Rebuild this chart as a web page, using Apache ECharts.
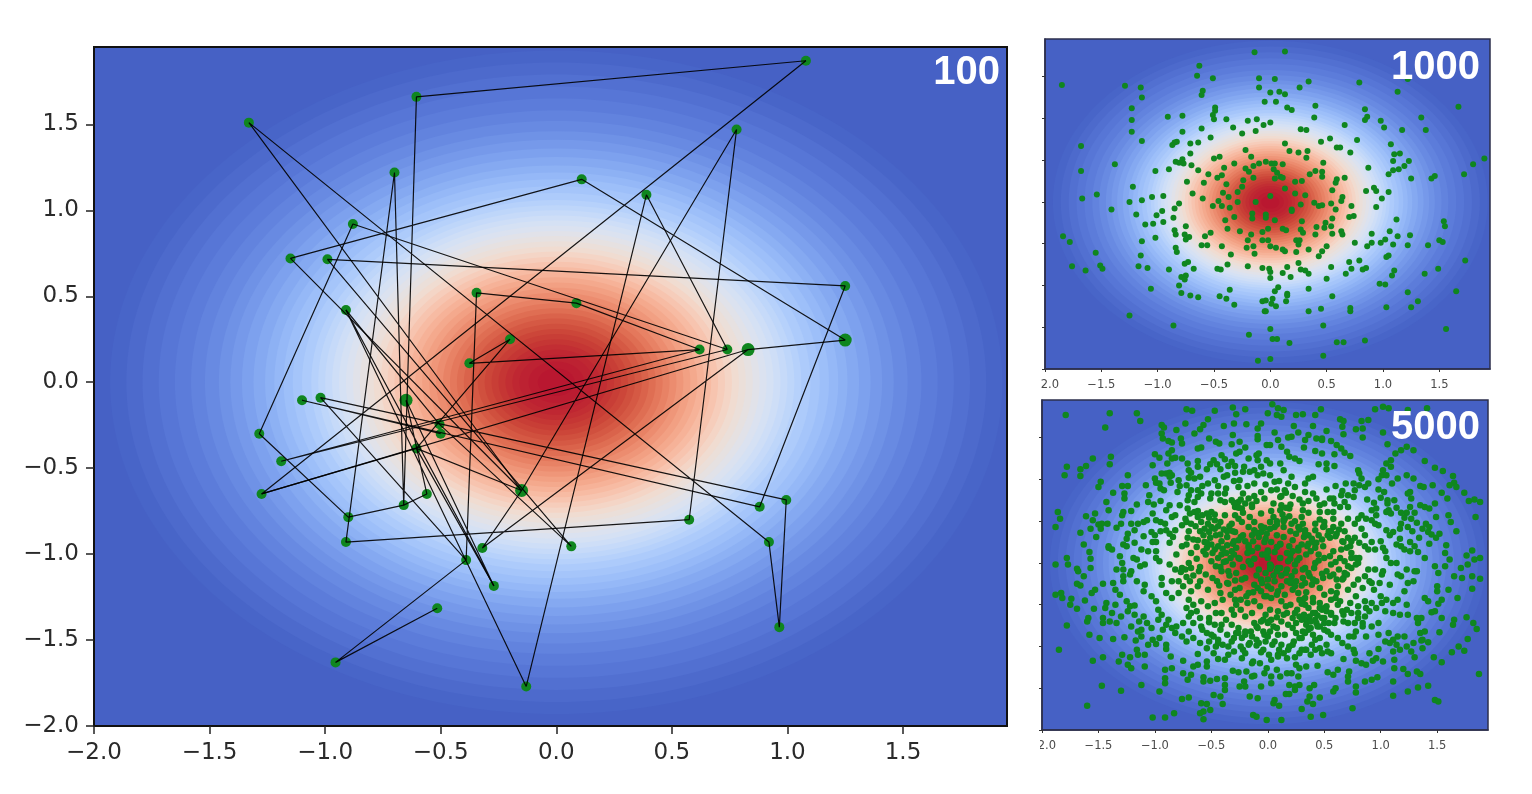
<!DOCTYPE html>
<html>
<head>
<meta charset="utf-8">
<style>
  html, body { margin: 0; background: #fff; }
  #chart { width: 1532px; height: 794px; filter: blur(0.5px); }
</style>
<script src="https://cdn.jsdelivr.net/npm/echarts@6/dist/echarts.min.js"></script>
</head>
<body>
<div id="chart"></div>
<script>
// tick labels shared by all panels
const tickValues = [-2, -1.5, -1, -0.5, 0, 0.5, 1, 1.5];

// filled contour bands of the density, outermost first (radius in axis units)
const bandRadii = [1.93, 1.86, 1.79, 1.72, 1.65, 1.58, 1.52, 1.46, 1.41, 1.36, 1.31, 1.26, 1.22, 1.18, 1.14, 1.10, 1.06, 1.03, 1.00, 0.97, 0.94, 0.91, 0.88, 0.85, 0.82, 0.79, 0.76, 0.73, 0.70, 0.67, 0.64, 0.61, 0.58, 0.55, 0.52, 0.49, 0.46, 0.43, 0.40, 0.37, 0.34, 0.31, 0.28, 0.25, 0.22, 0.19, 0.16, 0.12, 0.08];
const bandColors = ['#4865c8', '#4d6acc', '#5270d1', '#5776d6', '#5c7cda', '#6283de', '#688ae2', '#6f92e6', '#7699ea', '#7da1ee', '#85a9f1', '#8db1f4', '#95b8f7', '#9dbff9', '#a5c5fa', '#adcbfb', '#b6d1fb', '#bed6fa', '#c6daf9', '#cedef7', '#d5e1f4', '#dbe2f0', '#e1e2e9', '#e6e1e1', '#ebdfd9', '#f0dcd1', '#f4d5c6', '#f6cdbb', '#f7c4af', '#f7bba3', '#f6b298', '#f4a98d', '#f2a083', '#ef9679', '#ec8c6f', '#e88265', '#e4785c', '#df6e53', '#da634b', '#d55944', '#d0503e', '#cc4639', '#c83e36', '#c53634', '#c22e33', '#bf2732', '#bd2232', '#bb1c31', '#b91730'];

// panel "100": accepted states, then the order the walk visits them
const pts100X = [1.08, -0.605, -1.33, -0.70, 0.11, 0.39, 0.78, -0.88, -1.15, -0.99, 1.25, -0.345, 0.087, -0.91, -0.20, -0.376, 0.62, 0.74, 0.83, 1.25, -0.65, -1.10, -1.02, -0.505, -0.50, -0.605, -1.285, -1.19, -1.275, -0.56, -0.66, -0.15, -0.90, -0.91, 0.575, -0.32, 0.065, -0.39, -0.27, -0.515, -0.955, -0.13, 0.88, 0.995, 0.92, 0.965];
const pts100Y = [1.87, 1.66, 1.51, 1.22, 1.18, 1.09, 1.47, 0.92, 0.72, 0.715, 0.56, 0.52, 0.46, 0.42, 0.25, 0.11, 0.19, 0.19, 0.19, 0.245, -0.105, -0.105, -0.09, -0.245, -0.30, -0.385, -0.30, -0.46, -0.65, -0.65, -0.715, -0.63, -0.785, -0.93, -0.80, -0.965, -0.955, -1.035, -1.185, -1.315, -1.63, -1.77, -0.725, -0.685, -0.93, -1.425];
const repeated100 = [19, 20, 21, 32];
const trailA = [40, 41, 38, 23, 44, 46, 45, 3, 32, 9, 5, 20, 19, 29, 1, 2, 31, 4, 34, 35, 7, 32, 36, 19];
const trailB = [38, 12, 13, 17, 28, 18, 8, 27, 33, 31, 30, 21, 39, 14, 42, 6, 18];
const trailC = [17, 16, 15, 26, 29];
const trailD = [32, 26, 39];
const trailE = [25, 22, 43, 11, 10, 37, 24, 14];

// panel "1000": x,y,x,y...
const pts1000 = [-1.85,1.40,-.14,1.79,-.63,1.63,-.65,1.51,-.51,1.48,-.10,1.48,-.10,1.37,-1.29,1.39,-1.15,1.37,-1.14,1.25,-.60,1.33,-.61,1.28,-.05,1.20,-1.23,1.12,-1.23,.98,-1.23,.84,-1.14,.73,-.49,1.13,-.49,1.09,-.51,1.04,-.50,.99,-.91,1.02,-.78,1.03,-.39,.99,-.20,.97,-.12,.99,-.06,.92,-.33,.89,-.61,.88,-.78,.84,-.25,.82,-.13,.85,-.53,.77,-.83,.72,-.85,.71,-.87,.68,-.71,.70,-.64,.71,-1.68,.67,-.71,.58,-.22,.62,-.17,.54,-.50,.52,-.45,.54,-.32,.46,-.84,.48,-.81,.47,-.78,.51,-.77,.46,-.70,.44,-1.38,.45,-1.68,.37,-1.02,.37,-.90,.39,-.64,.38,-.41,.41,-.22,.40,-.19,.36,-.15,.43,-.10,.46,-.04,.48,-.55,.33,-.43,.32,-.47,.29,-.15,.29,-.24,.26,-.74,.24,-.59,.23,-.39,.21,-.25,.18,-1.22,.18,-.29,.12,-.42,.11,-.69,.10,-1.54,.09,-1.67,.04,-.60,.04,-.37,.06,-1.05,.06,-.95,.07,-1.14,.02,-1.25,0,-.29,0,-.13,0,-.81,-.02,-.46,.01,-.51,-.05,-.43,-.05,-.36,-.07,-.85,-.08,-.96,-.11,-1.41,-.09,
-1.19,-.15,-1.01,-.16,-.86,-.19,-1.11,-.27,-1.04,-.26,-.95,-.24,-.75,-.29,-.40,-.22,-.32,-.18,-.16,-.14,-.16,-.20,-.04,-.15,-.38,-.32,-.27,-.35,-.53,-.37,-.58,-.41,-.85,-.34,-.84,-.39,-.76,-.39,-.75,-.45,-.72,-.42,-.17,-.39,-.07,-.36,-1.02,-.43,-1.14,-.47,-.20,-.46,-.07,-.46,-.61,-.52,-.56,-.52,-.43,-.53,-.21,-.55,-.15,-.53,-.84,-.55,-.83,-.60,-.14,-.62,-.35,-.63,-1.84,-.41,-1.78,-.48,-1.55,-.61,-1.15,-.64,-.73,-.72,-.76,-.74,-.38,-.75,-.20,-.77,-.07,-.79,-.47,-.80,-.44,-.81,-.68,-.80,-.90,-.81,-1.09,-.79,-1.17,-.77,-1.51,-.76,-1.49,-.80,-1.76,-.77,-1.64,-.82,-.79,-.90,-.75,-.88,-.76,-.93,-.81,-1.00,-1.06,-1.04,-.36,-1.05,-.79,-1.09,-.71,-1.12,-.64,-1.14,-.45,-1.13,-.39,-1.16,-.07,-1.19,-.32,-1.23,-.05,-1.31,-1.25,-1.36,-.86,-1.48,-.19,-1.59,-.11,-1.90,
.13,1.80,.04,1.47,.34,1.44,.26,1.37,0,1.31,.08,1.32,.13,1.29,.05,1.20,.15,1.13,.19,1.10,.40,1.15,.39,1.01,.79,1.43,1.22,1.47,1.13,1.32,1.67,1.14,.84,1.11,.86,1.02,.84,.98,.66,.92,.98,.97,1.01,.89,1.34,1.01,1.38,.86,1.17,.86,0,.95,.27,.87,.32,.86,.45,.72,.53,.76,.77,.74,.59,.65,.62,.65,.71,.59,.13,.70,.17,.61,.25,.59,.33,.61,.32,.53,1.07,.69,1.10,.57,1.15,.58,1.09,.49,1.23,.49,1.19,.43,1.14,.39,1.09,.38,1.05,.33,.87,.41,.47,.47,.01,.46,.04,.46,.11,.45,1.90,.52,1.80,.45,1.72,.33,1.25,.28,1.43,.28,1.46,.31,.03,.39,.06,.35,.09,.30,.11,.29,.35,.33,.40,.37,.46,.36,.46,.30,.66,.29,.59,.27,.58,.23,.22,.24,.28,.25,.04,.28,.13,.16,.55,.14,.85,.13,.92,.17,.94,.13,1.05,.12,.99,.04,.22,.10,.31,.08,0,.07,.64,.06,.63,.01,.39,-.01,.27,-.03,.54,-.02,.43,-.05,.46,-.04,.72,-.05,.94,-.06,.58,-.09,.19,-.09,
.19,-.11,-.04,-.19,.04,-.22,.28,-.23,.49,-.25,.55,-.20,.70,-.18,.74,-.17,1.12,-.21,1.54,-.23,1.55,-.29,.41,-.30,.48,-.31,.54,-.29,-.02,-.32,.11,-.32,.14,-.34,.27,-.33,.29,-.37,.63,-.35,.64,-.39,.40,-.39,.55,-.38,.90,-.38,1.06,-.35,1.13,-.41,1.24,-.40,-.02,-.46,.23,-.46,.26,-.46,.25,-.51,.75,-.49,.90,-.49,.98,-.49,1.02,-.45,1.09,-.51,1.22,-.52,1.40,-.52,1.50,-.46,1.53,-.48,.86,-.53,0,-.53,.05,-.55,.11,-.57,.13,-.59,.50,-.53,.46,-.59,.34,-.57,.23,-.60,.43,-.65,1.05,-.64,1.03,-.66,1.73,-.70,.70,-.72,.79,-.70,.25,-.73,.15,-.78,.54,-.78,.72,-.80,.85,-.79,.82,-.81,1.49,-.80,1.10,-.82,.27,-.81,.31,-.82,.34,-.86,-.01,-.80,0,-.84,.11,-.85,.18,-.90,0,-.91,.67,-.86,1.08,-.88,1.37,-.86,.50,-.92,.97,-.98,1.02,-.99,.34,-1.04,.07,-1.02,.04,-1.07,.15,-1.10,.55,-1.13,1.22,-1.08,1.65,-1.07,.02,-1.16,-.04,-1.18,.15,-1.12,.14,-1.19,1.31,-1.19,.01,-1.22,.05,-1.25,1.03,-1.26,1.25,-1.26,.71,-1.27,.71,-1.31,.45,-1.28,.34,-1.31,-.04,-1.31,.47,-1.48,0,-1.52,1.56,-1.52,.02,-1.64,.06,-1.64,.17,-1.69,.59,-1.68,.65,-1.68,.84,-1.66,.47,-1.84,0,-1.88];

// panel "5000": x,y,x,y...
const pts5000 = [-1.79,1.77,-1.40,1.79,-1.16,1.79,-1.13,1.70,-1.44,1.62,-.72,1.84,-.67,1.82,-.47,1.82,-.31,1.86,-.28,1.78,-.20,1.84,-.53,1.72,-.57,1.65,-.60,1.60,-.73,1.67,-.81,1.59,-.65,1.55,-.39,1.64,-.30,1.67,-.19,1.66,-.06,1.67,-.09,1.61,-.94,1.65,-.92,1.62,-.94,1.55,-.93,1.49,-.88,1.46,-.85,1.44,-.77,1.49,-.76,1.43,-.52,1.49,-.46,1.45,-.43,1.43,-.31,1.53,-.32,1.42,-.25,1.45,-.20,1.38,-.09,1.52,-.09,1.48,-.62,1.37,-.59,1.38,-.85,1.35,-1.00,1.30,-.96,1.26,-.88,1.31,-.85,1.25,-.82,1.26,-.76,1.25,-.71,1.19,-1.02,1.17,-.89,1.19,-.70,1.11,-.68,1.08,-.62,1.22,-.62,1.15,-.41,1.29,-.38,1.24,-.28,1.31,-.25,1.33,-.32,1.21,-.29,1.16,-.17,1.25,-.10,1.29,-.08,1.31,-.09,1.23,-.48,1.23,-.51,1.18,-.54,1.12,-.45,1.18,-.42,1.12,-.35,1.16,-.21,1.15,-.16,1.09,-.22,1.09,-.12,1.11,-.06,1.15,-1.55,1.25,-1.39,1.27,-1.40,1.18,-1.61,1.16,-1.66,1.12,-1.78,1.15,-1.80,1.05,-1.66,1.04,-1.24,1.05,-.94,1.07,-.90,1.07,-.87,1.08,-.85,1.05,-.87,1.03,-.79,.99,-.65,1.01,-.60,1.03,-.53,.95,-.47,.99,-.39,1.03,-.36,1.05,-.29,1.08,-.25,.99,-.09,1.05,-.04,1.07,-1.00,1.01,-.99,.96,-.96,.95,-.95,.89,-.92,.87,-1.48,.97,-1.50,.91,-1.29,.92,-1.24,.92,-1.08,.93,-.72,.93,-1.37,.84,-1.27,.83,-1.27,.77,-1.05,.81,-1.06,.73,-.80,.85,-.70,.81,-.71,.75,-.68,.87,-.62,.87,-.59,.83,-.62,.79,-.65,.73,-.50,.83,-.51,.77,-.44,.83,-.42,.75,-.37,.89,-.38,.83,-.26,.91,-.22,.83,-.17,.77,-.12,.95,-.06,.85,-.03,.77,-.38,.73,-.32,.75,-.26,.73,-.20,.71,-.29,.67,-.23,.65,-.14,.67,-1.43,.73,-1.41,.63,-1.16,.70,-1.21,.62,-1.28,.61,-1.29,.57,-.95,.74,-1.01,.70,-.78,.69,-.87,.69,-.90,.63,-1.86,.61,-1.84,.53,-1.88,.43,-1.61,.56,-1.53,.59,-1.55,.51,-1.50,.46,-1.47,.47,-1.42,.47,-1.48,.41,-1.57,.41,-1.34,.42,-1.30,.47,-1.21,.47,-1.15,.47,-1.10,.49,-1.07,.51,-1.02,.59,-.99,.51,-.95,.49,-.91,.47,-.85,.55,-.82,.57,-.71,.65,-.69,.59,-.65,.61,-.62,.55,-.73,.53,-.72,.49,-.54,.59,-.50,.61,-.47,.51,-.38,.57,-.29,.57,-.23,.49,-.16,.55,-.12,.49,-.06,.59,-.76,.45,-.68,.47,-.59,.49,-.53,.47,-.56,.41,-.57,.33,-.50,.43,-.42,.49,-1.66,.36,-1.52,.31,-1.63,.22,-1.58,.13,-1.24,.35,-1.25,.29,-1.28,.22,-1.25,.20,-1.18,.39,-1.10,.32,-1.03,.37,-1.00,.33,-.95,.38,-1.02,.25,-.99,.25,-1.41,.18,-1.38,.16,-1.41,.20,-1.18,.24,-1.12,.16,-1.06,.14,-.99,.14,-1.09,-.02,-1.13,-.04,-.87,.35,-.84,.31,-.82,.39,-.90,.39,-.87,.24,-.81,.10,-.76,.20,-.72,.22,-.68,.12,-.71,.30,-.62,.27,-.56,.25,-.57,.14,-.54,.18,-.50,.22,-.47,.16,-.41,.10,-.37,.02,-.32,.14,-.26,.27,-.22,.33,-.14,.33,-.29,.37,-.17,.43,-.12,.39,-.06,.37,-.03,.25,-.09,.18,-.14,.14,-.17,.02,-.26,.06,-.31,-.02,-1.78,.06,-1.77,-.02,-1.88,-.02,-1.57,.05,-1.57,-.06,-1.69,-.07,-1.31,.08,-1.29,0,-1.34,-.08,-1.28,-.08,-1.21,-.10,-1.19,.06,-1.16,.04,-.99,.06,-.96,.02,-.87,-.02,-.82,-.08,-.76,-.06,-.73,-.08,-.68,-.06,
.04,1.90,.09,1.85,.14,1.83,0,1.79,.08,1.77,.12,1.75,.25,1.77,.31,1.78,.42,1.77,.47,1.84,.64,1.72,.67,1.70,.66,1.63,.67,1.54,.83,1.70,.89,1.71,.84,1.61,.78,1.60,.84,1.50,.95,1.84,1.02,1.87,1.07,1.85,1.24,1.83,1.41,1.85,1.02,1.56,1.06,1.42,.23,1.64,.27,1.56,.40,1.64,.52,1.58,.48,1.49,.36,1.53,.33,1.47,.32,1.38,.06,1.56,.09,1.47,.18,1.50,.21,1.51,-.01,1.41,.02,1.41,.12,1.39,.17,1.33,.19,1.27,.43,1.49,.48,1.47,.56,1.46,.61,1.41,.65,1.37,.68,1.32,.73,1.28,.59,1.30,.42,1.34,.48,1.31,-.01,1.23,.02,1.19,.11,1.19,.14,1.11,.24,1.25,.28,1.22,.45,1.18,.52,1.19,.59,1.16,.52,1.12,1.23,1.39,1.18,1.35,1.13,1.31,1.09,1.23,1.05,1.19,1.02,1.11,1.01,1.05,1.05,1.05,1.09,1.15,1.29,1.35,1.39,1.22,1.48,1.14,1.55,1.10,1.64,1.04,1.65,.96,1.61,.93,1.67,.91,1.23,1.05,1.29,1.01,1.15,1.01,1.10,.95,.98,1.00,.89,.95,.86,.91,.83,1.01,.81,1.07,.80,1.11,1.35,.92,1.38,.91,1.46,.93,1.26,.85,1.27,.77,1.24,.83,1.54,.84,1.59,.77,1.74,.84,1.78,.74,1.83,.76,1.88,.73,1.84,.55,.98,.88,1.03,.85,1.06,.75,1.06,.71,1.12,.75,.69,.95,.76,.95,.81,.93,.77,.87,.71,.81,.76,.79,.55,.77,.58,.77,.59,.71,.65,.81,.68,.73,.71,.67,.64,.67,.36,1.01,.40,1.03,.33,.95,.33,.85,.40,.83,.43,.77,.02,1.05,.06,.97,.18,.95,.15,.87,.03,.87,.11,.79,.24,.91,.21,1.03,.05,.71,.12,.69,.19,.65,.31,.71,.31,.63,.46,.69,.50,.71,.53,.61,.58,.61,.46,.61,1.26,.67,1.23,.60,1.21,.54,1.27,.53,1.35,.69,1.39,.67,1.43,.65,1.48,.71,1.49,.55,1.60,.57,1.62,.49,1.67,.38,.92,.63,.96,.65,.96,.57,.83,.57,.80,.53,.87,.53,.92,.51,.95,.47,.98,.45,1.07,.63,1.05,.61,1.09,.59,1.11,.37,1.08,.33,1.05,.39,1.18,.47,1.17,.41,1.24,.43,1.17,.29,1.37,.41,1.40,.47,1.43,.43,1.42,.37,1.45,.34,1.49,.30,1.52,.35,1.58,.21,1.57,.12,1.26,.25,1.18,.20,1.21,.16,1.26,.14,1.33,.13,1.39,.06,1.43,.23,1.81,.15,1.76,.09,1.88,.06,1.83,.04,1.77,-.02,1.71,-.06,1.61,.04,1.48,-.04,1.57,-.04,1.14,0,1.09,0,1.05,.06,1.02,-.10,1.23,-.08,1.32,-.10,.89,-.08,.95,-.08,
.50,.49,.58,.53,.65,.47,.71,.53,.77,.47,.83,.41,.86,.33,.92,.25,.77,.30,.81,.24,.86,.20,.89,.16,.95,.16,1.04,.14,.42,.47,.42,.39,.45,.33,.49,.43,.53,.33,.58,.43,.61,.35,.67,.25,.73,.20,.65,.16,.58,.14,.64,.06,.68,.02,.74,.06,.81,.06,.71,-.04,.78,-.02,.30,.55,.31,.47,.33,.39,.36,.33,.27,.43,.25,.35,.22,.27,.19,.20,.30,.22,.36,.23,.42,.18,.49,.20,.45,.10,.50,.06,.56,-.02,.42,0,.34,.10,.28,.06,.24,-.02,.33,-.06,.05,.55,.11,.63,.15,.53,.21,.47,.06,.43,.14,.43,.02,.41,-.01,.35,.08,.33,.14,.31,.03,.25,.11,.22,.17,.12,.06,.13,0,.06,.11,.06,.18,.02,.03,-.04,.09,-.06,.17,-.08,.24,-.10,
-1.88,-.38,-1.83,-.36,-1.82,-.42,-1.74,-.43,-1.75,-.50,-1.69,-.55,-1.62,-.45,-1.54,-.55,-1.78,-.75,-1.85,-1.04,-1.69,-.25,-1.66,-.27,-1.63,-.16,-1.68,-.10,-1.56,-.36,-1.53,-.32,-1.46,-.25,-1.59,-.66,-1.60,-.70,-1.58,-.86,-1.46,-.66,-1.46,-.72,-1.40,-.70,-1.38,-.60,-1.43,-.48,-1.44,-.54,-1.49,-.90,-1.37,-.91,-1.27,-.89,-1.35,-.50,-1.35,-.32,-1.37,-.24,-1.28,-.22,-1.31,-.38,-1.25,-.46,-1.22,-.52,-1.18,-.51,-1.21,-.76,-1.17,-.93,-1.12,-.88,-1.15,-.82,-1.12,-.80,-1.28,-.16,-1.22,-.14,-1.16,-.22,-1.09,-.26,-1.10,-.34,-1.03,-.40,-.99,-.46,-.97,-.56,-1.10,-.64,-1.07,-.72,-1.03,-.78,-.97,-.68,-.93,-.80,-.88,-.68,-.85,-.78,-.81,-.76,-.75,-.72,-.70,-.64,-.68,-.60,-1.16,-1.04,-1.15,-1.10,-1.09,-1.10,-.99,-.97,-.90,-.98,-.90,-1.03,-1.46,-1.13,-1.55,-1.17,-1.32,-1.18,-1.29,-1.10,-1.22,-1.13,-1.24,-1.22,-1.21,-1.26,-1.09,-1.24,-1.47,-1.47,-1.30,-1.53,-1.12,-1.46,-.96,-1.54,-1.60,-1.71,-1.02,-1.85,-.91,-1.85,-.83,-1.80,-.76,-1.63,-.70,-1.61,-.86,-1.12,-.75,-1.17,-.91,-1.28,-.85,-1.26,-.91,-1.38,-.91,-1.44,-.75,-1.32,-.71,-1.40,-.68,-1.34,-.66,-1.24,-.62,-1.22,-.57,-1.37,-.57,-1.42,-.51,-1.41,-.45,-1.39,-.38,-1.38,-.38,-1.46,-.38,-1.52,-.54,-1.18,-.54,-1.24,-.44,-1.15,-.38,-1.16,-.62,-1.09,-.48,-1.58,-.42,-1.60,-.59,-1.68,-.54,-1.69,-.51,-1.76,-.57,-1.78,-.60,-1.80,-.40,-1.69,-.57,-1.87,-.31,-1.29,-.26,-1.31,-.19,-1.30,-.14,-1.36,-.21,-1.42,-.25,-1.48,-.20,-1.48,-.12,-1.35,-.06,-1.48,-.16,-1.60,-.09,-1.62,-.13,-1.82,-.10,-1.84,-.23,-1.14,-.20,-1.08,-.14,-1.20,-.35,-1.10,-.22,-1.04,-.13,-1.18,-.04,-1.04,-.07,-1.20,
-.94,-.26,-.90,-.36,-.85,-.42,-.79,-.36,-.75,-.28,-.70,-.44,-.66,-.50,-.59,-.46,-.53,-.52,-.47,-.48,-.41,-.60,-.37,-.68,-.32,-.56,-.29,-.44,-.20,-.64,-.14,-.60,-.12,-.72,-.59,-.76,-.54,-.84,-.48,-.88,-.44,-.92,-.40,-.98,-.32,-.94,-.23,-.90,-.17,-.98,-.10,-.92,-.04,-.82,-.41,-.74,-.32,-.74,-.26,-.78,-.09,-.78,-.35,-.25,-.29,-.32,-.23,-.20,-.17,-.36,-.12,-.26,-.06,-.20,-.03,-.40,-.45,-.22,-.42,-.36,-.53,-.32,-.62,-.28,-.68,-.34,-.60,-.22,-.69,-.22,-.79,-.22,-.85,-.22,-.94,-.18,-.30,.10,-.25,.05,-.18,.12,-.12,.05,-.05,.10,0,.15,-.22,-.05,-.15,-.02,-.08,-.08,.02,-.02,-.28,-.12,-.20,-.18,-.10,-.15,-.02,-.12,.05,-.15,-.35,-.10,-.42,-.05,-.50,.02,-.55,.10,-.63,.05,-.60,-.05,-.70,0,-.25,-.30,-.33,-.38,-.40,-.44,-.18,-.48,-.07,-.52,-.24,-.56,-.02,-.62,-.30,-.62,-.46,-.60,-.52,-.66,-.63,-.58,-.72,-.54,-.60,-.66,-.66,-.72,
1.51,-.12,1.65,-.16,1.72,-.18,1.81,-.16,1.88,-.19,1.81,-.31,1.60,-.32,1.54,-.44,1.51,-.49,1.48,-.58,1.54,-.66,1.68,-.42,1.76,-.65,1.82,-.72,1.85,-.79,1.77,-.91,1.74,-1.05,1.69,-1.00,1.63,-1.07,1.87,-1.33,1.50,-.28,1.50,-.34,1.39,-.42,1.42,-.46,1.45,-.59,1.52,-.83,1.65,-.68,1.64,-.74,1.32,-.66,1.36,-.66,1.33,-.72,1.35,-.84,1.39,-.82,1.37,-.92,1.36,-.93,1.42,-.95,1.37,-1.02,1.47,-1.13,1.54,-1.19,1.29,-.96,1.27,-1.06,1.30,-1.13,1.20,-1.27,1.24,-1.33,1.32,-1.30,1.35,-1.33,1.33,-1.49,1.42,-1.47,1.24,-1.54,1.11,-1.59,1.48,-1.64,1.51,-1.66,1.11,-1.42,1.15,-.88,1.11,-.92,1.14,-.98,1.08,-.96,1.04,-.94,1.21,-.88,1.23,-1.0,1.17,-1.04,1.11,-1.06,.98,-1.03,1.12,-1.16,1.12,-1.26,1.02,-1.18,.96,-1.14,.93,-1.17,.90,-1.08,1.07,-.84,.98,-.86,.87,-.88,.76,-.88,.71,-1.0,.76,-1.04,.77,-1.08,.67,-1.15,.78,-1.17,.83,-1.20,.87,-1.22,.92,-1.40,.97,-1.37,.86,-1.42,.78,-1.48,.78,-1.55,.75,-1.74,.58,-1.54,.60,-1.50,.53,-1.31,.58,-1.34,.62,-1.28,.72,-1.30,.71,-1.36,.71,-1.42,.49,-1.82,.38,-1.84,.12,-1.88,-.01,-1.88,.30,-1.75,.35,-1.66,.37,-1.60,.41,-1.46,.37,-1.50,.40,-1.69,.46,-1.61,.06,-1.64,.05,-1.68,.10,-1.71,.16,-1.57,.19,-1.57,.24,-1.52,.28,-1.46,.19,-1.46,.24,-1.48,.03,-1.36,.11,-1.36,.03,-1.44,.08,-1.28,-.03,-1.32,.17,-1.32,.21,-1.32,.27,-1.36,.34,-1.24,.44,-1.23,.25,-1.22,.28,-1.26,.03,-1.16,-.01,-1.26,.09,-1.10,.17,-1.14,.24,-1.13,.30,-1.04,.34,-1.04,.39,-.98,.42,-1.04,.46,-1.02,.52,-.98,.53,-1.06,.56,-1.08,.42,-.92,.33,-1.04,
-.03,-.86,0,-.88,.06,-.94,.12,-.98,.18,-1.04,.15,-.86,.09,-.86,.25,-.84,.30,-.90,.31,-.82,.50,-.72,.53,-.82,.46,-.76,.42,-.68,.40,-.60,.48,-.56,.52,-.52,.56,-.62,.59,-.72,.67,-.62,.67,-.70,.71,-.72,.77,-.72,.70,-.56,.73,-.48,.80,-.60,.84,-.72,.92,-.76,.98,-.72,1.04,-.58,1.11,-.60,1.17,-.62,1.24,-.62,1.01,-.48,1.05,-.44,1.11,-.48,1.15,-.44,1.23,-.50,.86,-.46,.92,-.48,.87,-.54,.96,-.54,.71,-.32,.76,-.26,.80,-.20,.86,-.16,.92,-.24,.99,-.24,1.08,-.26,1.18,-.16,1.24,-.24,1.29,-.22,1.30,-.10,1.21,-.34,1.15,-.14,1.01,-.14,.64,-.46,.61,-.36,.56,-.44,.50,-.38,.46,-.30,.39,-.26,.31,-.44,.33,-.50,.27,-.36,.22,-.32,.15,-.38,.09,-.34,.03,-.42,-.01,-.40,.02,-.56,.09,-.58,.17,-.60,.24,-.60,.28,-.64,.03,-.68,.12,-.70,.18,-.74,.25,-.72,.34,-.68,.34,-.74,0,-.72,.05,-.76,0,-.20,.06,-.22,.12,-.28,.20,-.24,.25,-.22,.31,-.18,.37,-.16,.43,-.22,.49,-.18,.55,-.16,.61,-.20,.67,-.18];

// panel "5000": the solid green mass around the middle, chain by chain
const pts5000Core = [-.62,.62,-.58,.57,-.52,.54,-.47,.58,-.44,.44,-.39,.40,-.34,.44,-.31,.38,-.36,.31,-.41,.26,-.46,.33,-.51,.30,-.54,.24,-.49,.12,-.44,.06,-.40,.17,-.36,.21,-.31,.23,-.28,.18,-.33,.06,-.39,.01,-.46,-.04,-.41,-.10,-.34,-.15,-.29,-.21,-.36,-.24,-.43,-.27,-.49,-.18,-.55,-.14,-.61,-.10,-.66,-.15,-.72,-.17,-.77,-.11,-.63,.19,-.66,.28,-.70,.38,-.64,.44,-.60,.38,-.52,.37,-.47,.41,-.44,.20,-.37,.12,-.24,.31,-.20,.26,-.17,.21,-.13,.26,-.08,.31,-.03,.42,.02,.49,.08,.50,.13,.58,.19,.56,.24,.50,.28,.42,.32,.31,.27,.18,.22,.14,.26,.03,.31,-.08,.36,-.12,.41,-.06,.45,.03,.38,.14,.43,.24,.48,.28,.55,.30,.56,.38,.63,.40,.68,.38,.71,.30,.74,.26,.55,.08,.60,.01,.63,-.08,.68,-.12,.58,-.14,.52,-.10,.48,-.13,.40,-.20,.33,-.24,.24,-.28,.17,-.22,.12,-.15,.16,-.12,.21,-.16,.08,-.10,.02,-.07,-.05,-.24,-.09,-.30,-.13,-.35,-.19,-.40,-.24,-.44,-.28,-.50,-.12,-.46,-.06,-.34,0,-.28,.03,-.31,.08,-.38,.12,-.46,.16,-.52,.20,-.50,.28,-.44,.33,-.42,.40,-.47,.46,-.54,.52,-.58,.44,-.63,.37,-.64,.30,-.68,.22,-.66,.14,-.62,.08,-.65,.01,-.70,-.04,-.68,-.10,-.76,-.15,-.82,-.20,-.86,-.26,-.84,-.30,-.90,-.36,-.86,-.42,-.80,-.47,-.74,-.52,-.71,-.58,-.80,-.50,-.86,-.44,-.96,-.35,-1.00,-.30,-1.06,-.24,-1.00,-.16,-.96,-.10,-.99,-.06,-1.07,.01,-1.10,.09,-1.12,.14,-1.08,.19,-1.00,.23,-.94,.28,-.90,.33,-.84,.38,-.78,.43,-.72,.50,-.66,.56,-.60,.50,-.54,.46,-.48,.40,-.42,.34,-.35,.30,-.27,.20,-.22,.11,-.06,.20,.05,.20,.10,.27,.15,.35,.20,.41,.24,.39,.29,.33,.35,.28,.40,.20,.38,.08,.46,.14,.52,.14,.50,-.06,.44,-.10,.36,-.02,.29,.11,.23,.08,.19,.00,.13,-.02,.10,-.17,.18,-.30,.26,-.42,.34,-.36,.38,-.32,.47,-.26,.53,-.22,.60,-.26,.66,-.30,.72,-.24,.76,-.14,.70,-.10,.74,.12,.80,.16,.84,.08,.88,.03,.62,.20,.70,.16,.66,.36,.60,.46,.52,.50,.44,.54,.38,.60,.32,.66,.26,.70,.18,.74,.12,.78,.06,.80,0,.74,-.06,.70,-.14,.66,-.20,.62,-.28,.56,-.34,.60,-.42,.62,-.50,.66,-.58,.60,-.66,.54,-.72,.48,-.66,.42,-.60,.36,-.54,.30,-.49,.26,-.56,.32,-.62,.38,-.70,.44,-.76,.50,-.80,.56,-.86,.62,-.90,.66,-.96,.72,-.88,.78,-.82,.84,-.76,.80,-.66,.74,-.60,.80,-.52,.86,-.64,.90,-.58,.78,-.40,.84,-.30,.90,-.22,.94,-.32,1.00,-.40,-.70,-.82,-.76,-.88,-.82,-.84,-.72,-.94,-.66,-.90,-.60,-.96,-.54,-1.02,-.48,-1.08,-.52,-.94,-.46,-1.00,-.28,-.84,-.20,-.82,-.14,-.88,-.08,-.96,-.02,-.94,.04,-.98,.10,-1.04,.22,-.98,.28,-1.08,.38,-1.10,.48,-1.08,-.06,-.70,.02,-.82,.08,-.78,.22,-.78,.36,-.80,.40,-.86,.46,-.90,-.94,-.62,-.90,-.74,-.96,-.90,-1.02,-.92,-1.06,-.98,-1.14,-.70,-1.18,-.62,-1.24,-.58,-1.30,-.64,-1.34,-.72,-.70,1.02,-.78,.92,-.86,.96,-.58,.92,-.44,.92,-.30,.98,-.18,.92,-.12,.80,-.02,.94,.10,.98,.22,.80,.28,.76,.36,.74,.52,.88,.60,.92,.66,.86,.88,.76,.94,.72,1.00,.78,1.14,.66,1.18,.60,1.30,.60,1.32,.48,1.28,.38,1.34,.30,1.30,.20,1.14,.22,1.00,.26,1.02,.18];

const toPairs = flat => {
  const out = [];
  for (let i = 0; i < flat.length; i += 2) out.push([flat[i], flat[i + 1]]);
  return out;
};
const pt100 = id => [pts100X[id - 1], pts100Y[id - 1]];
const fmtTick = v => v.toFixed(1).replace('-', '\u2212');

const chart = echarts.init(document.getElementById('chart'));

// one axis pair per panel
function makeAxis(kind, idx, big) {
  return {
    type: 'value',
    gridIndex: idx,
    min: -2,
    max: 1.95,
    splitLine: { show: false },
    axisLine: { onZero: false, lineStyle: { color: big ? '#111' : '#2c2f4c', width: big ? 2 : 1.5 } },
    axisTick: { customValues: tickValues, length: big ? 8 : 3, lineStyle: { color: big ? '#222' : '#333', width: big ? 1.5 : 1 } },
    axisLabel: {
      customValues: tickValues,
      show: kind === 'x' || big,
      formatter: fmtTick,
      fontFamily: 'DejaVu Sans',
      fontSize: big ? 23 : 11.5,
      color: big ? '#2a2a2a' : '#4a4a4a',
      margin: big ? (kind === 'x' ? 16 : 15) : 10
    }
  };
}

function bandSeries(idx) {
  return {
    type: 'custom',
    xAxisIndex: idx,
    yAxisIndex: idx,
    z: 1,
    silent: true,
    data: bandRadii.map(r => [r, 0]),
    renderItem: (params, api) => {
      const r = api.value(0);
      const c = api.coord([0, 0]);
      const s = api.size([r, r]);
      return {
        type: 'ellipse',
        shape: { cx: c[0], cy: c[1], rx: s[0], ry: s[1] },
        style: { fill: bandColors[params.dataIndex] }
      };
    }
  };
}

function dots(idx, data, size) {
  return {
    type: 'scatter',
    xAxisIndex: idx,
    yAxisIndex: idx,
    z: 2,
    silent: true,
    symbolSize: size,
    itemStyle: { color: '#0f861f', opacity: 1 },
    data: data
  };
}

function trail(ids) {
  return {
    type: 'line',
    xAxisIndex: 0,
    yAxisIndex: 0,
    z: 3,
    silent: true,
    showSymbol: false,
    lineStyle: { color: '#000', width: 1.2, opacity: 0.9 },
    data: ids.map(pt100)
  };
}

const panelLabel = (text, right, baseline) => ({
  type: 'text',
  z: 100,
  style: {
    text: text,
    x: right,
    y: baseline,
    align: 'right',
    verticalAlign: 'bottom',
    fill: '#fff',
    font: 'bold 40px "Liberation Sans"'
  }
});

chart.setOption({
  animation: false,
  grid: [
    { left: 94, top: 47, width: 913, height: 679, show: true, backgroundColor: '#4661c5', borderColor: '#111', borderWidth: 2 },
    { left: 1045, top: 39, width: 445, height: 330, show: true, backgroundColor: '#4661c5', borderColor: '#2c2f4c', borderWidth: 1.5 },
    { left: 1042, top: 400, width: 446, height: 330, show: true, backgroundColor: '#4661c5', borderColor: '#2c2f4c', borderWidth: 1.5 }
  ],
  xAxis: [makeAxis('x', 0, true), makeAxis('x', 1, false), makeAxis('x', 2, false)],
  yAxis: [makeAxis('y', 0, true), makeAxis('y', 1, false), makeAxis('y', 2, false)],
  series: [
    bandSeries(0), bandSeries(1), bandSeries(2),
    dots(0, pts100X.map((x, i) => [x, pts100Y[i]]), 10),
    dots(0, repeated100.map(pt100), 13),
    trail(trailA), trail(trailB), trail(trailC), trail(trailD), trail(trailE),
    dots(1, toPairs(pts1000), 6),
    dots(2, toPairs(pts5000).concat(toPairs(pts5000Core)), 6.5)
  ],
  graphic: [
    panelLabel('100', 1000, 93),
    panelLabel('1000', 1480, 88),
    panelLabel('5000', 1480, 448),
    // the two small panels were cropped tight on the left in the source figure
    { type: 'rect', z: 90, shape: { x: 1020, y: 374, width: 20, height: 20 }, style: { fill: '#fff' } },
    { type: 'rect', z: 90, shape: { x: 1020, y: 735, width: 20, height: 20 }, style: { fill: '#fff' } }
  ]
});
</script>
</body>
</html>
